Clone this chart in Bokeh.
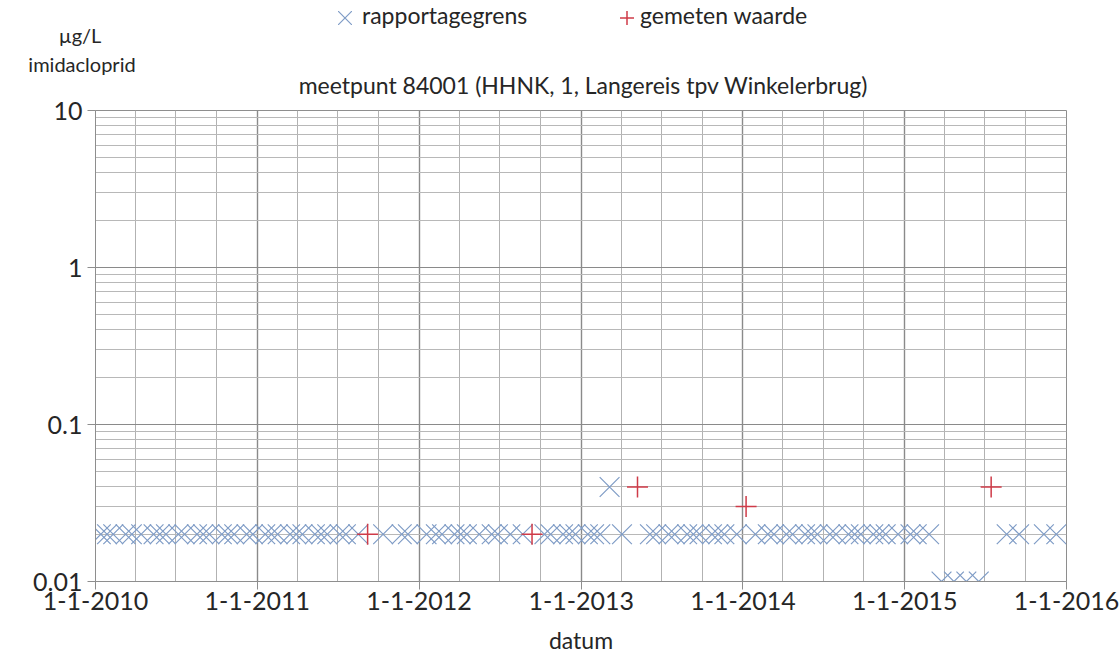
import pandas as pd
from bokeh.plotting import figure
from bokeh.layouts import column
from bokeh.models import ColumnDataSource, Div, FixedTicker, Range1d
from bokeh.embed import file_html
from bokeh.resources import INLINE

FONT = "Lato"
TEXT = "#262626"
BLUE = "#7f9cc6"
RED = "#cf3b48"

# Samples below the reporting limit (value = rapportagegrens), µg/L
grens_dates = [
    "2010-01-13", "2010-01-27", "2010-02-10", "2010-03-10", "2010-03-24",
    "2010-04-14", "2010-05-12", "2010-05-26", "2010-06-09", "2010-07-07",
    "2010-07-21", "2010-08-18", "2010-09-01", "2010-09-15", "2010-10-13",
    "2010-10-27", "2010-11-10", "2010-12-08", "2010-12-22",
    "2011-01-19", "2011-02-02", "2011-02-16", "2011-03-16", "2011-03-30",
    "2011-04-13", "2011-05-11", "2011-05-25", "2011-06-08", "2011-07-06",
    "2011-07-20", "2011-08-17", "2011-10-12", "2011-11-23", "2011-12-07",
    "2012-01-18", "2012-02-08", "2012-02-22", "2012-03-21", "2012-04-04",
    "2012-04-18", "2012-05-16", "2012-06-13", "2012-06-27", "2012-07-25",
    "2012-08-22", "2012-10-10", "2012-10-24", "2012-11-21", "2012-12-05",
    "2012-12-19",
    "2013-01-16", "2013-01-30", "2013-02-13", "2013-03-06", "2013-04-03",
    "2013-06-05", "2013-06-19", "2013-07-17", "2013-07-31", "2013-08-28",
    "2013-09-11", "2013-09-25", "2013-10-23", "2013-11-06", "2013-11-20",
    "2013-12-18",
    "2014-01-29", "2014-02-26", "2014-03-12", "2014-04-09", "2014-04-23",
    "2014-05-21", "2014-06-04", "2014-06-18", "2014-07-16", "2014-07-30",
    "2014-08-27", "2014-09-10", "2014-09-24", "2014-10-22", "2014-11-05",
    "2014-11-19", "2014-12-17",
    "2015-01-14", "2015-01-28", "2015-02-25", "2015-03-25", "2015-04-22",
    "2015-05-20", "2015-06-17", "2015-08-19", "2015-09-16", "2015-11-11",
    "2015-12-09",
]
grens_values = [
    0.02, 0.02, 0.02, 0.02, 0.02, 0.02, 0.02, 0.02, 0.02, 0.02,
    0.02, 0.02, 0.02, 0.02, 0.02, 0.02, 0.02, 0.02, 0.02,
    0.02, 0.02, 0.02, 0.02, 0.02, 0.02, 0.02, 0.02, 0.02, 0.02,
    0.02, 0.02, 0.02, 0.02, 0.02,
    0.02, 0.02, 0.02, 0.02, 0.02, 0.02, 0.02, 0.02, 0.02, 0.02,
    0.02, 0.02, 0.02, 0.02, 0.02, 0.02,
    0.02, 0.02, 0.02, 0.04, 0.02, 0.02, 0.02, 0.02, 0.02, 0.02,
    0.02, 0.02, 0.02, 0.02, 0.02, 0.02,
    0.02, 0.02, 0.02, 0.02, 0.02, 0.02, 0.02, 0.02, 0.02, 0.02,
    0.02, 0.02, 0.02, 0.02, 0.02, 0.02, 0.02,
    0.02, 0.02, 0.02, 0.01, 0.01, 0.01, 0.01, 0.02, 0.02, 0.02,
    0.02,
]

# Measured concentrations (gemeten waarde), µg/L
meet_dates = ["2011-09-07", "2012-09-12", "2013-05-08", "2014-01-08", "2015-07-15"]
meet_values = [0.02, 0.02, 0.04, 0.03, 0.04]

year_starts = ["2010-01-01", "2011-01-01", "2012-01-01", "2013-01-01",
               "2014-01-01", "2015-01-01", "2016-01-01"]
year_labels = ["1-1-2010", "1-1-2011", "1-1-2012", "1-1-2013",
               "1-1-2014", "1-1-2015", "1-1-2016"]
y_ticks = [0.01, 0.1, 1, 10]
y_labels = ["0.01", "0.1", "1", "10"]


def ms(d):
    return float(pd.Timestamp(d).value // 10**6)


year_ms = [ms(d) for d in year_starts]
quarter_ms = [ms(pd.Timestamp(y) + pd.DateOffset(months=m))
              for y in year_starts[:-1] for m in (3, 6, 9)]
y_minor = [m * t for t in y_ticks[:-1] for m in range(2, 10)]

# ---- header strip: legend, y caption and chart title
HEAD_H = 100


def text_at(text, cx, cy, size=23, anchor="center"):
    shift = "-50%" if anchor == "center" else "0"
    return (f'<span style="position:absolute;left:{cx}px;top:{cy - 3}px;'
            f'transform:translate({shift},-50%);white-space:nowrap;'
            f'font-size:{size}px;line-height:1;">{text}</span>')


def key_x(cx, cy, s=14):
    return (f'<svg style="position:absolute;left:{cx - s / 2}px;top:{cy - s / 2}px" '
            f'width="{s}" height="{s}"><path d="M0 0L{s} {s}M{s} 0L0 {s}" '
            f'stroke="{BLUE}" stroke-width="1.2" fill="none"/></svg>')


def key_plus(cx, cy, s=14):
    h = s / 2
    return (f'<svg style="position:absolute;left:{cx - h}px;top:{cy - h}px" '
            f'width="{s}" height="{s}"><path d="M{h} 0L{h} {s}M0 {h}L{s} {h}" '
            f'stroke="{RED}" stroke-width="1.5" fill="none"/></svg>')


header_html = (
    f'<div style="position:relative;width:1120px;height:{HEAD_H}px;'
    f'font-family:{FONT};color:{TEXT};background:white;">'
    + key_x(345, 18)
    + text_at("rapportagegrens", 362, 18, anchor="left")
    + key_plus(627, 18)
    + text_at("gemeten waarde", 640, 18, anchor="left")
    + text_at("µg/L", 80, 38, size=20)
    + text_at("imidacloprid", 82, 67, size=20)
    + text_at("meetpunt 84001 (HHNK, 1, Langereis tpv Winkelerbrug)", 583, 88)
    + '</div>'
)
header = Div(text=header_html, width=1120, height=HEAD_H, margin=0)

# ---- main chart
p = figure(width=1120, height=656 - HEAD_H, x_axis_type="datetime",
           y_axis_type="log", x_range=Range1d(year_ms[0], year_ms[-1]),
           y_range=Range1d(0.01, 10), output_backend="svg",
           toolbar_location=None, min_border_left=95, min_border_right=54,
           min_border_top=110 - HEAD_H, min_border_bottom=75)
p.background_fill_color = "white"
p.border_fill_color = "white"
p.outline_line_color = "#8e8e8e"

xt = FixedTicker(ticks=year_ms, minor_ticks=quarter_ms)
yt = FixedTicker(ticks=y_ticks, minor_ticks=y_minor)
p.xaxis.ticker = xt
p.yaxis.ticker = yt
p.xgrid.ticker = xt
p.ygrid.ticker = yt
p.xaxis.major_label_overrides = dict(zip(year_ms, year_labels))
p.yaxis.major_label_overrides = dict(zip(y_ticks, y_labels))

for ax in (p.xaxis, p.yaxis):
    ax.axis_line_color = "#8e8e8e"
    ax.major_tick_line_color = "#8e8e8e"
    ax.major_tick_out = 8
    ax.major_tick_in = 0
    ax.minor_tick_line_color = None
    ax.major_label_text_font = FONT
    ax.major_label_text_font_size = "25px"
    ax.major_label_text_color = TEXT
p.xaxis.major_label_standoff = 2
p.yaxis.major_label_standoff = 5

p.xaxis.axis_label = "datum"
p.xaxis.axis_label_standoff = 13
p.xaxis.axis_label_text_font = FONT
p.xaxis.axis_label_text_font_size = "23px"
p.xaxis.axis_label_text_font_style = "normal"
p.xaxis.axis_label_text_color = TEXT

p.xgrid.grid_line_color = "#8a8a8a"
p.xgrid.grid_line_width = 1.4
p.xgrid.minor_grid_line_color = "#b2b2b2"
p.ygrid.grid_line_color = "#8a8a8a"
p.ygrid.grid_line_width = 1.2
p.ygrid.minor_grid_line_color = "#b8b8b8"

src_grens = ColumnDataSource(dict(date=pd.to_datetime(grens_dates), value=grens_values))
src_meet = ColumnDataSource(dict(date=pd.to_datetime(meet_dates), value=meet_values))

p.scatter("date", "value", source=src_grens, marker="x", size=28,
          line_color=BLUE, line_width=1.2)
p.scatter("date", "value", source=src_meet, marker="cross", size=21,
          line_color=RED, line_width=1.5)

open("out.html", "w").write(file_html(column(header, p, spacing=0), INLINE))
